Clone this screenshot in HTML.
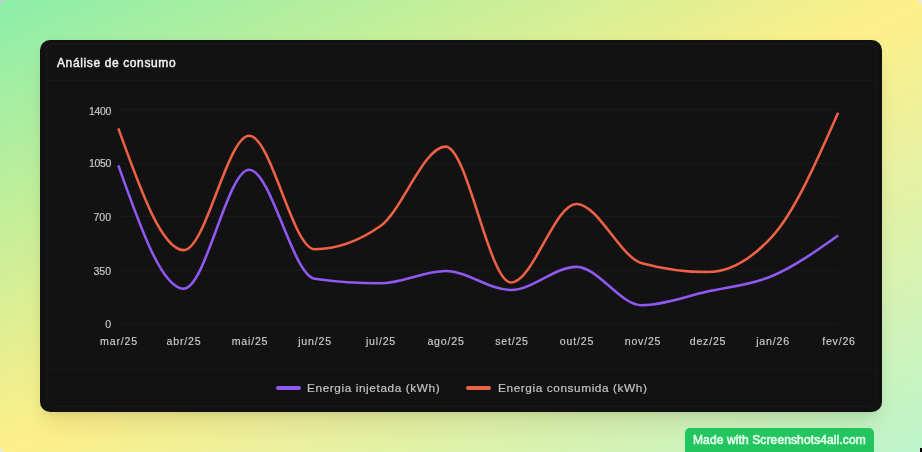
<!DOCTYPE html>
<html><head><meta charset="utf-8"><title>Análise de consumo</title>
<style>
html,body{margin:0;padding:0;}
body{width:922px;height:452px;overflow:hidden;position:relative;font-family:"Liberation Sans",sans-serif;
background:linear-gradient(to bottom right,#8beea9 0%,#feef8a 50%,#bdf5cc 100%);}
.outer{position:absolute;left:40px;top:40px;width:842px;height:372px;border-radius:10px;background:#111111;
box-shadow:0 18px 25px -5px rgba(0,0,0,.09),0 8px 10px -6px rgba(0,0,0,.06),0 0 10px rgba(0,0,0,.03);}
.inner{position:absolute;left:46px;top:43px;width:829px;height:362px;border:1px solid #191919;border-radius:8px;background:#121212;}
.title{position:absolute;left:57px;top:54.5px;height:16px;line-height:16px;font-size:12px;font-weight:normal;-webkit-text-stroke:0.45px #f2f2f2;color:#f2f2f2;letter-spacing:0.62px;white-space:nowrap;}
.hr{position:absolute;left:47px;width:829px;height:1px;background:#181818;}
.g{position:absolute;left:118px;width:720px;height:1px;background:#191919;}
.yl{position:absolute;left:61.1px;width:50px;text-align:right;height:14px;line-height:14px;font-size:10.5px;color:#cdcdcd;-webkit-text-stroke:0.15px #cdcdcd;letter-spacing:0.3px;white-space:nowrap;}
.xl{position:absolute;top:333.6px;width:60px;text-align:center;height:14px;line-height:14px;font-size:10.6px;color:#cdcdcd;-webkit-text-stroke:0.15px #cdcdcd;letter-spacing:0.8px;white-space:nowrap;}
svg.c{position:absolute;left:0;top:0;}
.lm{position:absolute;top:386.1px;width:25px;height:3.7px;border-radius:2px;}
.lt{position:absolute;top:380px;height:16px;line-height:16px;font-size:11.8px;color:#c4c4c4;-webkit-text-stroke:0.2px #c4c4c4;white-space:nowrap;letter-spacing:0.6px;}
.badge{position:absolute;left:685px;top:428px;width:189px;height:30px;border-radius:5px;background:#22c55e;}
.bt{position:absolute;left:693.2px;top:432.4px;height:16px;line-height:16px;font-size:12px;font-weight:normal;-webkit-text-stroke:0.65px #e2faea;color:#e2faea;white-space:nowrap;letter-spacing:0.12px;}
.k{position:absolute;width:6px;height:6px;}
.title,.yl,.xl,.lt,.bt{will-change:transform;}
</style></head><body>
<div class="k" style="left:0;top:0;background:linear-gradient(135deg,#c8c8c8 31%,rgba(200,200,200,0) 47%)"></div>
<div class="k" style="right:0;top:0;background:linear-gradient(225deg,#e8e8e8 31%,rgba(232,232,232,0) 47%)"></div>
<div class="k" style="left:0;bottom:0;background:linear-gradient(45deg,#e8e8e8 30%,rgba(232,232,232,0) 45%)"></div>
<div class="k" style="right:0;bottom:0;background:linear-gradient(315deg,#dcdcdc 22%,rgba(220,220,220,0) 40%)"></div>
<div style="position:absolute;left:920px;top:448px;width:2px;height:4px;background:#000"></div>
<div class="outer"></div>
<div class="inner"></div>
<div class="title">Análise de consumo</div>
<div class="hr" style="top:80px"></div>
<div class="hr" style="top:369px"></div>
<div class="g" style="top:109px"></div><div class="g" style="top:163px"></div><div class="g" style="top:216px"></div><div class="g" style="top:270px"></div><div class="g" style="top:324px"></div>
<div class="yl" style="top:103.5px;letter-spacing:-0.35px;margin-left:-0.35px">1400</div><div class="yl" style="top:155.6px;letter-spacing:-0.35px;margin-left:-0.35px">1050</div><div class="yl" style="top:209.8px;letter-spacing:0.00px;margin-left:0.00px">700</div><div class="yl" style="top:263.5px;letter-spacing:0.00px;margin-left:0.00px">350</div><div class="yl" style="top:317.1px;letter-spacing:0.00px;margin-left:0.00px">0</div>
<div class="xl" style="left:88.9px">mar/25</div><div class="xl" style="left:154.3px">abr/25</div><div class="xl" style="left:219.8px">mai/25</div><div class="xl" style="left:285.2px">jun/25</div><div class="xl" style="left:350.7px">jul/25</div><div class="xl" style="left:416.1px">ago/25</div><div class="xl" style="left:481.6px">set/25</div><div class="xl" style="left:547.0px">out/25</div><div class="xl" style="left:612.5px">nov/25</div><div class="xl" style="left:677.9px">dez/25</div><div class="xl" style="left:743.4px">jan/26</div><div class="xl" style="left:808.8px">fev/26</div>
<svg class="c" width="922" height="452" viewBox="0 0 922 452">
<path d="M118.30,165.36C140.12,227.02,161.93,288.68,183.75,288.68C205.56,288.68,227.38,169.81,249.19,169.81C271.01,169.81,292.82,275.62,314.64,278.70C336.45,281.77,358.27,283.30,380.08,283.30C401.90,283.30,423.71,271.02,445.53,271.02C467.34,271.02,489.16,290.06,510.97,290.06C532.79,290.06,554.60,266.87,576.42,266.87C598.23,266.87,620.05,305.26,641.86,305.26C663.68,305.26,685.49,296.51,707.31,291.60C729.12,286.68,750.94,285.15,772.75,275.78C794.57,266.41,816.38,250.90,838.20,235.39" fill="none" stroke="#9059f3" stroke-width="2.55"/>
<path d="M118.30,128.35C140.12,189.24,161.93,250.13,183.75,250.13C205.56,250.13,227.38,135.72,249.19,135.72C271.01,135.72,292.82,249.21,314.64,249.21C336.45,249.21,358.27,241.58,380.08,226.33C401.90,211.07,423.71,146.62,445.53,146.62C467.34,146.62,489.16,282.54,510.97,282.54C532.79,282.54,554.60,203.91,576.42,203.91C598.23,203.91,620.05,257.25,641.86,263.19C663.68,269.12,685.49,272.09,707.31,272.09C729.12,272.09,750.94,260.01,772.75,235.85C794.57,211.69,816.38,162.19,838.20,112.69" fill="none" stroke="#ef6147" stroke-width="2.55"/>
</svg>
<div class="lm" style="left:276px;background:#9059f3"></div>
<div class="lt" id="lt1" style="left:307px">Energia injetada (kWh)</div>
<div class="lm" style="left:466px;background:#ef6147"></div>
<div class="lt" id="lt2" style="left:497.5px">Energia consumida (kWh)</div>
<div class="badge"></div>
<div class="bt" id="bt">Made with Screenshots4all.com</div>
</body></html>
